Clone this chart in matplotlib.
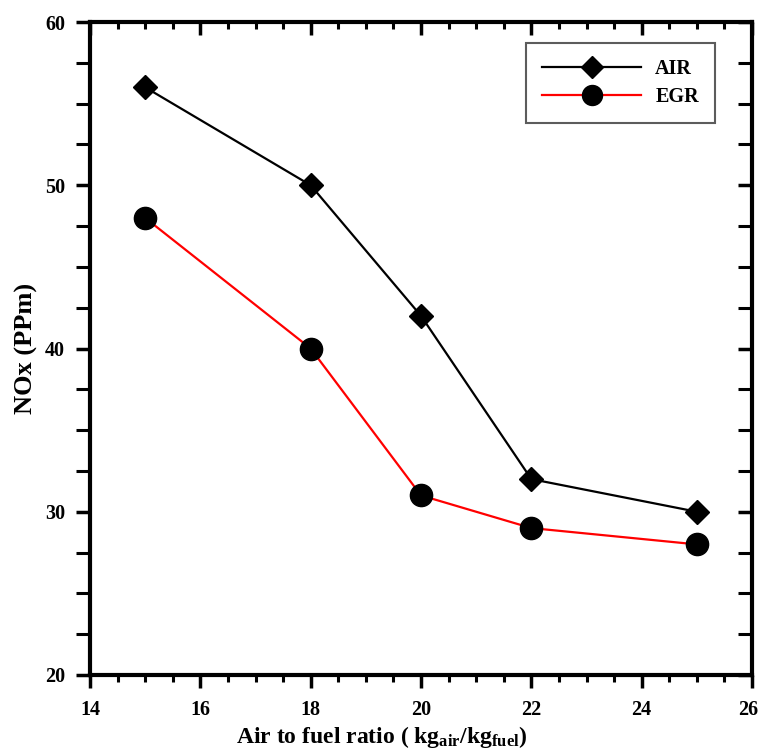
import matplotlib
matplotlib.use("Agg")
import matplotlib.pyplot as plt
import matplotlib.transforms as mtransforms
from matplotlib.ticker import MultipleLocator

x_vals = [15, 18, 20, 22, 25]
air_nox = [56, 50, 42, 32, 30]
egr_nox = [48, 40, 31, 29, 28]

plt.rcParams['font.family'] = ['Liberation Serif']
plt.rcParams['font.weight'] = 'bold'
plt.rcParams['mathtext.fontset'] = 'custom'
plt.rcParams['mathtext.rm'] = 'Liberation Serif:bold'
plt.rcParams['mathtext.it'] = 'Liberation Serif:bold'
plt.rcParams['mathtext.bf'] = 'Liberation Serif:bold'
plt.rcParams['mathtext.default'] = 'rm'

fig = plt.figure(figsize=(7.6, 7.51), dpi=100)
ax = fig.add_axes([90/760, 1 - 675/751, 662/760, 653/751])

ax.plot(x_vals, air_nox, color='black', lw=1.6, marker='D', markersize=12, label='AIR')
ax.plot(x_vals, egr_nox, color='red', lw=1.6, marker='o', markersize=16,
        markerfacecolor='black', markeredgecolor='black', label='EGR')

ax.set_xlim(14, 26)
ax.set_ylim(20, 60)
ax.xaxis.set_major_locator(MultipleLocator(2))
ax.xaxis.set_minor_locator(MultipleLocator(0.5))
ax.yaxis.set_major_locator(MultipleLocator(10))
ax.yaxis.set_minor_locator(MultipleLocator(2.5))

for s in ax.spines.values():
    s.set_linewidth(3)

ax.tick_params(axis='x', which='major', direction='out', length=9, width=2.5, labelsize=14.5, pad=9)
ax.tick_params(axis='x', which='minor', direction='out', length=5, width=2.2)
ax.tick_params(axis='y', which='major', direction='out', length=10, width=2.5, labelsize=14.5, pad=8)
ax.tick_params(axis='y', which='minor', direction='out', length=10, width=2.2)
ax.tick_params(axis='x', top=True, which='both')
ax.tick_params(axis='y', right=True, which='both')
# top/right ticks point inward
for tl in ax.xaxis.get_ticklines(minor=False)[1::2] + ax.xaxis.get_ticklines(minor=True)[1::2]:
    tl.set_marker(3)
for tl in ax.yaxis.get_ticklines(minor=False)[1::2] + ax.yaxis.get_ticklines(minor=True)[1::2]:
    tl.set_marker(0)

ax.set_xlabel(r'Air to fuel ratio ( kg$_{\mathrm{air}}$/kg$_{\mathrm{fuel}}$)', fontsize=17, fontweight='bold', labelpad=3)
ax.xaxis.label.set_x(0.441)
ax.set_ylabel('NOx (PPm)', fontsize=19, fontweight='bold', labelpad=5)

leg = ax.legend(loc='upper right', bbox_to_anchor=(0.944, 0.968), fontsize=14.5, frameon=True,
                fancybox=False, edgecolor='#333333', handlelength=4.9, handletextpad=0.7,
                borderpad=0.8, labelspacing=0.4, markerscale=0.9, borderaxespad=0)
leg.get_frame().set_linewidth(1.5)

# keep the last x tick label inside the figure
fig.canvas.draw()
off = mtransforms.ScaledTranslation(-4/100, 0, fig.dpi_scale_trans)
for tick in ax.xaxis.get_major_ticks():
    if tick.label1.get_text() == '26':
        tick.label1.set_transform(tick.label1.get_transform() + off)

fig.savefig('out.png', dpi=100)
